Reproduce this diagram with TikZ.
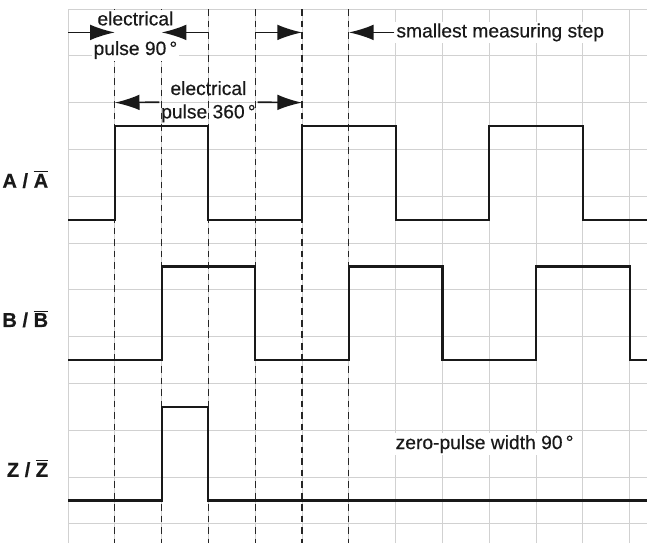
\documentclass[tikz,border=0pt]{standalone}
\usepackage{fontspec}
\setmainfont{Liberation Sans}[FakeBold=0.4]
\usepackage{tikz}
\usetikzlibrary{arrows.meta,positioning,calc}
\newcommand{\ovl}[1]{$\overline{\mbox{#1}}$}

\begin{document}
\begin{tikzpicture}[>={Latex[length=15pt,width=9.5pt]},x=0.5cm,y=0.5cm,font=\fontsize{11.7}{14.2}\selectfont]
\tikzstyle{gridline}=[draw=black!18,line width=0.6pt]
\tikzstyle{stepline}=[black!85,line width=0.7pt,dash pattern=on 4pt off 3pt]
\tikzstyle{wave}=[black!90,line width=1.3pt]
\tikzstyle{txtbox}=[inner sep=1pt,align=center,text=black!90]
\tikzstyle{channel}=[anchor=east,text=black!90,font=\fontsize{12.2}{14.2}\selectfont\bfseries]
\tikzstyle{dimarrow}=[->,line width=1pt,black!90]

\useasboundingbox (-2.906,0.385) rectangle (24.74,-22.82);
\draw[gridline] (0,-22.82) grid (24.74,0);

% quarter period markers
\foreach \x in {2,4,...,12}
  \draw[stepline] (\x,0) -- (\x,-22.82);

% channels
\draw[wave] (0,-9) -| (2,-5) -| (6,-9) -| (10,-5) -| (14,-9) -| (18,-5) -| (22,-9) -- (24.74,-9);
\draw[wave] (0,-15) -| (4,-11) -| (8,-15) -| (12,-11) -| (16,-15) -| (20,-11) -| (24,-15) -- (24.74,-15);
\draw[wave] (0,-21) -| (4,-17) -| (6,-21) -- (24.74,-21);

\node[channel] (lA) at (-0.6,-7.28) {A / \ovl{A}};
\node[channel] (lB) at (-0.6,-13.23) {B / \ovl{B}};
\node[channel] (lZ) at (-0.6,-19.63) {Z / \ovl{Z}};

\node[txtbox,fill=white] (p90) at (2.88,-1.12) {electrical\\[3.8pt] pulse 90\,°};
\node[txtbox] (p360) at (6.0,-3.96) {electrical\\ pulse 360\,°};
\node[txtbox,fill=white,anchor=west] (step) at (13.95,-1) {smallest measuring step};
\node[txtbox,fill=white] (zero) at (17.8,-18.59) {zero-pulse width 90\,°};

\coordinate (a0) at (0,-1);
\coordinate (a2) at (2,-1);
\coordinate (a4) at (4,-1);
\coordinate (a6) at (6,-1);
\coordinate (a8) at (8,-1);
\coordinate (a10) at (10,-1);
\coordinate (a12) at (12,-1);
\coordinate (b2) at (2,-4);
\coordinate (b10) at (10,-4);

\path[dimarrow]
  (a0) edge (a2)
  (a6) edge (a4)
  (a8) edge (a10)
  (step) edge (a12)
  (p360) edge (b2)
  (p360) edge (b10);
\end{tikzpicture}
\end{document}
